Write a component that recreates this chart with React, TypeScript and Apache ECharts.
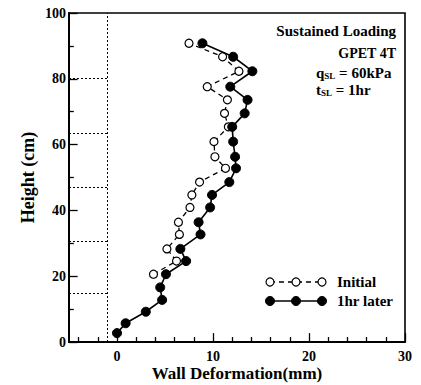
import React, { useEffect, useRef } from "react";
import * as echarts from "echarts";

// Measurement heights (cm)
const heights = [2.7, 5.7, 9.2, 12.8, 16.6, 20.6, 24.6, 28.3, 32.7, 36.4, 40.9, 44.7, 48.6, 52.8, 56.3, 60.9, 65.4, 69.5, 73.6, 77.6, 82.3, 86.7, 90.8];
// Wall deformation (mm) after 1hr
const laterDeformation = [0.0, 0.9, 3.0, 4.7, 4.5, 5.1, 7.2, 6.6, 8.7, 8.5, 9.7, 9.9, 11.7, 12.4, 12.3, 12.1, 12.0, 13.3, 13.6, 11.8, 14.1, 12.1, 8.9];
// Initial wall deformation (mm); no readings below 20 cm
const initialDeformation = [null, null, null, null, null, 3.8, 6.2, 5.2, 6.5, 6.4, 7.6, 7.8, 8.6, 11.3, 10.2, 10.1, 11.6, 11.2, 11.5, 9.4, 12.7, 11.0, 7.5];
// Reinforcement layer heights (cm) and the facing line (mm)
const reinforcementHeights = [14.8, 30.5, 47, 63.5, 80.2];
const facingX = -1;

const xMin = -5;
const xMax = 30;
const yMin = 0;
const yMax = 100;
const xLabels = [0, 10, 20, 30];
const xTicks = [-4, -2, 0, 2, 4, 6, 8, 10, 12, 14, 16, 18, 20, 22, 24, 26, 28, 30];
const yLabels = [0, 20, 40, 60, 80, 100];
const yTicks = [0, 10, 20, 30, 40, 50, 60, 70, 80, 90, 100];

const FONT = '"Liberation Serif", "DejaVu Serif", serif';

export default function App() {
  const ref = useRef<HTMLDivElement>(null);
  useEffect(() => {
    if (!ref.current) return;
    const chart = echarts.init(ref.current, undefined, { renderer: "svg" });
    const laterData = heights.map((h, i) => [laterDeformation[i], h]);
    const initialData = heights
      .map((h, i) => (initialDeformation[i] === null ? null : [initialDeformation[i], h]))
      .filter((d) => d !== null);
    const markLines: any[] = reinforcementHeights.map((h) => [
      { coord: [xMin, h] },
      { coord: [facingX, h] },
    ]);
    markLines.push([{ coord: [facingX, yMin] }, { coord: [facingX, yMax] }]);
    // inward tick marks as short markLine segments (lengths in data units)
    const xTickMinor = 1.5; // cm
    const xTickMajor = 2.7; // cm
    const yTickMinor = 0.5; // mm
    const yTickMajor = 0.9; // mm
    const tickLines: any[] = [
      ...xTicks.map((v) => [
        { coord: [v, yMin] },
        { coord: [v, yMin + (xLabels.includes(v) ? xTickMajor : xTickMinor)] },
      ]),
      ...yTicks.map((v) => [
        { coord: [xMin, v] },
        { coord: [xMin + (yLabels.includes(v) ? yTickMajor : yTickMinor), v] },
      ]),
    ];

    const lbl = { fontFamily: FONT, fontWeight: "bold" as const, fontSize: 14, color: "#000" };
    const legendX = [270, 296, 322];
    const legY1 = 282;
    const legY2 = 301;
    const nameStyle = { fontFamily: FONT, fontWeight: "bold" as const, color: "#000" };

    chart.setOption({
      animation: false,
      backgroundColor: "#fff",
      grid: {
        left: 69, right: 16, top: 13, bottom: 43, show: true,
        borderColor: "#000", borderWidth: 1.6, backgroundColor: "transparent",
        outerBoundsMode: "none", containLabel: false,
      },
      xAxis: {
        type: "value", min: xMin, max: xMax, position: "bottom",
        name: "Wall Deformation(mm)", nameLocation: "middle", nameGap: 23, nameMoveOverlap: false,
        nameTextStyle: { ...nameStyle, fontSize: 17 },
        axisLine: { show: true, onZero: false, lineStyle: { color: "#000", width: 2 } },
        axisTick: { show: false },
        axisLabel: { customValues: xLabels, margin: 7, ...lbl },
        splitLine: { show: false },
      },
      yAxis: {
        type: "value", min: yMin, max: yMax, position: "left",
        name: "Height (cm)", nameLocation: "middle", nameGap: 32, nameMoveOverlap: false,
        nameTextStyle: { ...nameStyle, fontSize: 18 },
        axisLine: { show: true, onZero: false, lineStyle: { color: "#000", width: 2 } },
        axisTick: { show: false },
        axisLabel: { customValues: yLabels, margin: 3, ...lbl },
        splitLine: { show: false },
      },
      series: [
        {
          name: "Initial", type: "line", data: initialData,
          symbol: "circle", symbolSize: 8,
          lineStyle: { color: "#000", width: 1.3, type: [5, 4] },
          itemStyle: { color: "#fff", borderColor: "#000", borderWidth: 1.2 },
          z: 3,
        },
        {
          name: "1hr later", type: "line", data: laterData,
          symbol: "circle", symbolSize: 9,
          lineStyle: { color: "#000", width: 1.6 },
          itemStyle: { color: "#000", borderColor: "#000" },
          z: 4,
        },
        {
          name: "layers", type: "line", data: [],
          markLine: {
            silent: true, symbol: "none", label: { show: false },
            lineStyle: { color: "#000", width: 1, type: [2, 2] },
            data: markLines,
          },
        },
        {
          name: "ticks", type: "line", data: [],
          markLine: {
            silent: true, symbol: "none", label: { show: false },
            lineStyle: { color: "#000", width: 1.3, type: "solid" },
            data: tickLines,
          },
        },
      ],
      graphic: [
        { type: "text", style: { text: "Sustained Loading", x: 396, y: 31, align: "right", verticalAlign: "middle", font: `bold 15px ${FONT}`, fill: "#000" } },
        { type: "text", style: { text: "GPET 4T", x: 396, y: 53, align: "right", verticalAlign: "middle", font: `bold 14px ${FONT}`, fill: "#000" } },
        {
          type: "text",
          style: {
            text: "{a|q}{s|SL}{a| = 60kPa}", x: 316, y: 73, verticalAlign: "middle",
            rich: { a: { font: `bold 15px ${FONT}`, fill: "#000" }, s: { font: `bold 9px ${FONT}`, fill: "#000", padding: [6, 0, 0, 0] } },
          },
        },
        {
          type: "text",
          style: {
            text: "{a|t}{s|SL}{a| = 1hr}", x: 316, y: 90, verticalAlign: "middle",
            rich: { a: { font: `bold 15px ${FONT}`, fill: "#000" }, s: { font: `bold 9px ${FONT}`, fill: "#000", padding: [6, 0, 0, 0] } },
          },
        },
        // legend
        { type: "line", shape: { x1: legendX[0], y1: legY1, x2: legendX[2], y2: legY1 }, style: { stroke: "#000", lineWidth: 1.3, lineDash: [5, 4] } },
        ...legendX.map((x) => ({ type: "circle", shape: { cx: x, cy: legY1, r: 4 }, style: { fill: "#fff", stroke: "#000", lineWidth: 1.2 } })),
        { type: "text", style: { text: "Initial", x: 337, y: legY1, verticalAlign: "middle", font: `bold 15px ${FONT}`, fill: "#000" } },
        { type: "line", shape: { x1: legendX[0], y1: legY2, x2: legendX[2], y2: legY2 }, style: { stroke: "#000", lineWidth: 1.6 } },
        ...legendX.map((x) => ({ type: "circle", shape: { cx: x, cy: legY2, r: 4.5 }, style: { fill: "#000", stroke: "#000", lineWidth: 1 } })),
        { type: "text", style: { text: "1hr later", x: 337, y: legY2, verticalAlign: "middle", font: `bold 15px ${FONT}`, fill: "#000" } },
      ],
    });
    return () => chart.dispose();
  }, []);
  return <div ref={ref} style={{ width: 421, height: 385, position: "absolute", left: 0, top: 0 }} />;
}
